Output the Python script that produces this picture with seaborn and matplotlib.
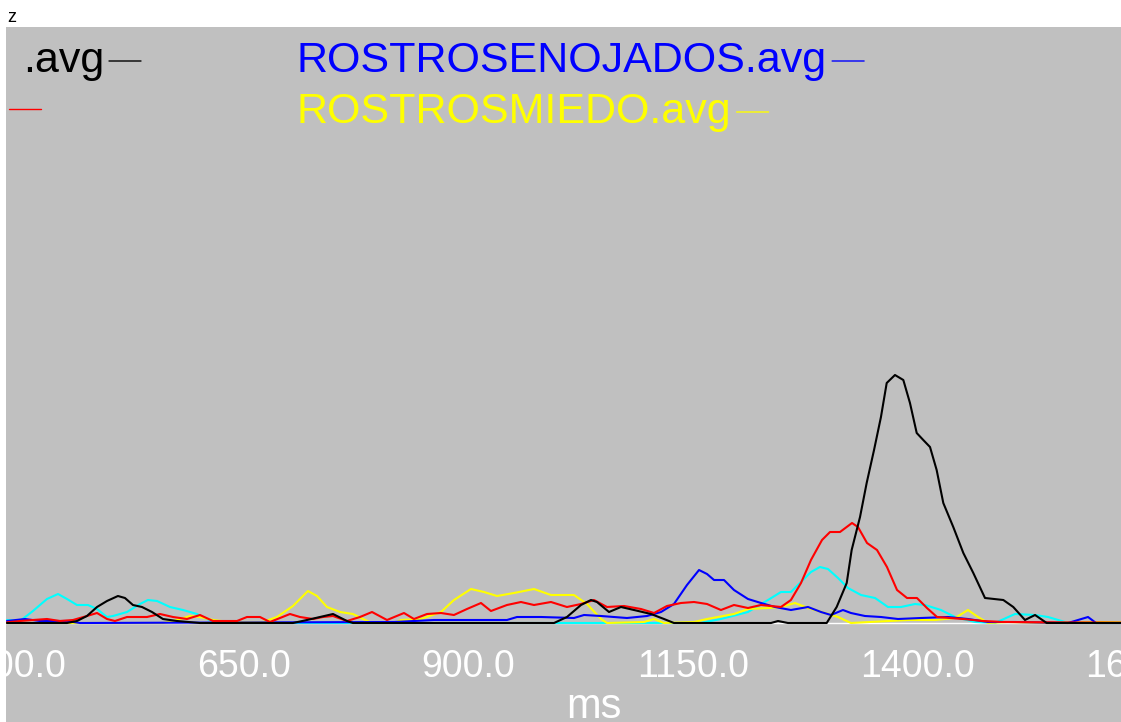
import matplotlib
matplotlib.use("Agg")
import matplotlib.pyplot as plt
from matplotlib.lines import Line2D
from matplotlib.text import OffsetFrom
import pandas as pd
import seaborn as sns

# ---------------- data (ms, amplitude in arbitrary units) ----------------
negro_ms = [386.3, 453.1, 464.2, 475.3, 486.5, 497.6, 509.8, 517.6, 526.5, 536.6,
            547.7, 559.9, 575.5, 601.1, 704.6, 720.2, 734.7, 749.2, 764.7, 771.4,
            995.2, 1009.6, 1025.2, 1036.3, 1043.0, 1056.4, 1069.7, 1084.2, 1103.1, 1117.6,
            1128.7, 1236.7, 1244.5, 1255.6, 1298.7, 1309.8, 1321.0, 1326.5, 1335.8, 1343.2,
            1351.4, 1359.1, 1365.5, 1374.7, 1384.0, 1391.4, 1398.9, 1406.2, 1413.7, 1421.1,
            1428.5, 1439.6, 1450.8, 1461.9, 1474.9, 1495.3, 1506.4, 1519.4, 1530.6, 1543.6,
            1670.0]
negro_amp = [0, 0, 2, 7, 16, 22, 27, 25, 18, 16,
             11, 4, 2, 0, 0, 3, 6, 9, 2, 0,
             0, 6, 18, 23, 21, 11, 16, 13, 9, 4,
             0, 0, 2, 0, 0, 16, 40, 73, 106, 140,
             173, 206, 240, 248, 243, 220, 190, 183, 176, 153,
             120, 96, 70, 50, 25, 23, 16, 3, 8, 0,
             0]

rojo_ms = [386.3, 400.8, 415.2, 430.8, 445.3, 459.8, 475.3, 486.5, 497.6, 506.5,
           519.9, 531.0, 542.1, 556.6, 571.1, 586.7, 601.1, 615.6, 631.2, 642.3,
           653.4, 667.9, 679.0, 690.2, 701.3, 712.4, 726.9, 738.0, 749.2, 764.7,
           779.2, 792.6, 809.3, 828.2, 839.3, 853.8, 869.4, 883.8, 898.3, 913.9,
           925.0, 942.8, 958.4, 972.9, 991.8, 1009.6, 1025.2, 1039.7, 1054.2, 1073.1,
           1092.0, 1106.5, 1120.9, 1136.5, 1151.0, 1165.5, 1181.0, 1195.5, 1211.1, 1225.6,
           1247.8, 1258.9, 1270.1, 1281.2, 1293.5, 1302.4, 1313.5, 1326.9, 1333.5, 1343.6,
           1354.7, 1365.8, 1377.0, 1388.1, 1399.2, 1410.3, 1421.5, 1435.9, 1450.4, 1472.7,
           1494.9, 1670.0]
rojo_amp = [0.7, 2, 3, 4, 2, 3, 7, 10, 4, 2,
            6, 6, 6, 9, 6, 4, 8, 2, 2, 2,
            6, 6, 1, 5, 9, 6, 4, 6, 7, 2,
            6, 11, 3, 10, 4, 9, 10, 8, 14, 20,
            12, 18, 21, 18, 21, 16, 19, 23, 16, 17,
            14, 10, 17, 20, 21, 19, 13, 18, 15, 18,
            16, 23, 40, 63, 83, 91, 91, 100, 96, 80,
            73, 56, 33, 25, 25, 15, 6, 5, 4, 2,
            1, 0]

cian_ms = [386.3, 400.8, 415.2, 430.8, 443.1, 453.1, 464.2, 476.5, 486.5, 497.6,
           504.3, 519.9, 534.3, 543.2, 553.3, 567.7, 582.2, 597.8, 608.9, 620.0,
           1157.7, 1181.0, 1211.1, 1233.4, 1247.8, 1258.9, 1270.1, 1281.2, 1291.2, 1300.1,
           1311.3, 1322.4, 1336.9, 1352.5, 1366.9, 1381.4, 1397.0, 1408.1, 1425.9, 1441.5,
           1463.8, 1486.0, 1508.3, 1530.6, 1545.0, 1564.0, 1581.8, 1670.0]
cian_amp = [3, 2, 12, 24, 29, 24, 18, 18, 14, 6,
            7, 11, 19, 23, 22, 16, 13, 9, 4, 0,
            0, 4, 11, 23, 31, 31, 41, 51, 56, 54,
            45, 35, 28, 25, 16, 16, 19, 18, 13, 6,
            1, 0, 9, 8, 6, 1, 0, 0]

enojados_ms = [386.3, 406.3, 423.0, 453.1, 467.6, 817.1, 861.6, 895.0, 942.8, 954.0,
               980.7, 1017.4, 1028.6, 1047.5, 1076.4, 1098.7, 1114.3, 1128.7, 1143.2, 1156.6,
               1165.5, 1173.3, 1184.4, 1195.5, 1211.1, 1225.6, 1241.2, 1258.9, 1277.9, 1292.4,
               1303.5, 1316.8, 1325.7, 1341.3, 1359.1, 1378.1, 1403.7, 1433.7, 1456.0, 1478.2,
               1508.3, 1567.3, 1589.6, 1598.5, 1670.0]
enojados_amp = [2, 4, 2, 2, 0, 1, 3, 3, 3, 6,
                6, 5, 8, 7, 5, 7, 11, 19, 38, 53,
                49, 43, 43, 33, 24, 20, 16, 13, 16, 11,
                8, 13, 10, 7, 6, 4, 5, 6, 4, 1,
                1, 0, 6, 0, 0]

miedo_ms = [386.3, 559.9, 575.5, 590.0, 601.1, 615.6, 634.5, 671.3, 686.8, 704.6,
            721.3, 731.4, 742.5, 757.0, 771.4, 782.6, 792.6, 817.1, 824.9, 847.1,
            869.4, 883.8, 902.8, 917.2, 931.7, 950.6, 972.9, 991.8, 1017.4, 1031.9,
            1047.5, 1054.2, 1095.4, 1106.5, 1117.6, 1151.0, 1165.5, 1195.5, 1211.1, 1233.4,
            1247.8, 1263.4, 1277.9, 1296.8, 1311.3, 1325.7, 1389.2, 1419.2, 1441.5, 1456.0,
            1467.1, 1478.2, 1500.5, 1543.6, 1604.0, 1670.0]
miedo_amp = [0, 0, 3, 7, 6, 3, 1, 1, 6, 17,
             32, 27, 16, 11, 9, 4, 0, 0, 3, 4,
             11, 23, 34, 31, 27, 30, 34, 28, 28, 19,
             4, 0, 1, 4, 0, 1, 4, 9, 14, 15,
             16, 20, 15, 10, 6, 0, 3, 3, 5, 13,
             6, 0, 1, 0, 1, 0]

tick_ms = [400, 650, 900, 1150, 1400, 1650]
tick_labels = ["400.0", "650.0", "900.0", "1150.0", "1400.0", "1650.0"]

series_names = ["cian", "ROSTROSMIEDO.avg", "ROSTROSENOJADOS.avg", "rojo", ".avg"]
series_colors = ["#00ffff", "#ffff00", "#0000ff", "#ff0000", "#000000"]

# ---------------- figure ----------------
sns.set_theme(style="white")
plt.rcParams["font.family"] = ["Liberation Sans", "DejaVu Sans"]

W, H = 1121, 722
PX_PER_MS = 0.8984          # horizontal scale of the original screen
X0_MS = 385.2               # value at the left edge of the plotting area
AX_W_PX = 1164              # plotting area runs past the right border (cropped view)

fig = plt.figure(figsize=(W / 100, H / 100), dpi=100, facecolor="white")
ax = fig.add_axes([6 / W, 0, AX_W_PX / W, (H - 27) / H])
ax.set_facecolor("#c0c0c0")

frames = []
for name, xs, ys in zip(series_names,
                        [cian_ms, miedo_ms, enojados_ms, rojo_ms, negro_ms],
                        [cian_amp, miedo_amp, enojados_amp, rojo_amp, negro_amp]):
    assert len(xs) == len(ys), name
    frames.append(pd.DataFrame({"ms": xs, "amp": ys, "serie": name}))
df = pd.concat(frames, ignore_index=True)

sns.lineplot(data=df, x="ms", y="amp", hue="serie", hue_order=series_names,
             palette=dict(zip(series_names, series_colors)), estimator=None,
             sort=False, legend=False, linewidth=1.5, ax=ax)

for s in ["left", "right", "top"]:
    ax.spines[s].set_visible(False)
ax.spines["bottom"].set_position(("data", 0))
ax.spines["bottom"].set_color("white")
ax.spines["bottom"].set_linewidth(1)
ax.spines["bottom"].set_zorder(1.9)
ax.set_yticks([])
ax.set_ylabel("")
ax.set_xticks(tick_ms, tick_labels)
ax.set_xlim(X0_MS, X0_MS + AX_W_PX / PX_PER_MS)
ax.set_ylim(-99, 596)
ax.tick_params(axis="x", direction="inout", length=26, width=1, colors="white",
               labelsize=27, pad=6)
ax.set_xlabel("ms", color="white", fontsize=30)
ax.xaxis.set_label_coords((594 - 6) / AX_W_PX, 0.006)
ax.xaxis.label.set_va("baseline")

# ---------------- legend-like labels ----------------
def etiqueta(x, y_base, text, color, ha):
    t = fig.text(x / W, 1 - y_base / H, text, color=color, fontsize=31,
                 ha=ha, va="baseline")
    off = OffsetFrom(t, (1.0, 0.5), unit="pixels")
    ax.annotate("", xy=(37, 0), xycoords=off, xytext=(5, 0), textcoords=off,
                arrowprops=dict(arrowstyle="-", color=color, lw=1,
                                shrinkA=0, shrinkB=0),
                annotation_clip=False)
    return t

etiqueta(104, 72, ".avg", "#000000", "right")
etiqueta(297, 72, "ROSTROSENOJADOS.avg", "#0000ff", "left")
etiqueta(297, 123, "ROSTROSMIEDO.avg", "#ffff00", "left")
fig.add_artist(Line2D([9 / W, 41 / W], [1 - 109 / H] * 2, transform=fig.transFigure,
                      color="#ff0000", lw=1))

fig.text(7 / W, 1 - 22 / H, "z", fontsize=13, color="black", va="baseline")

fig.savefig("out.png", dpi=100, facecolor="white")
